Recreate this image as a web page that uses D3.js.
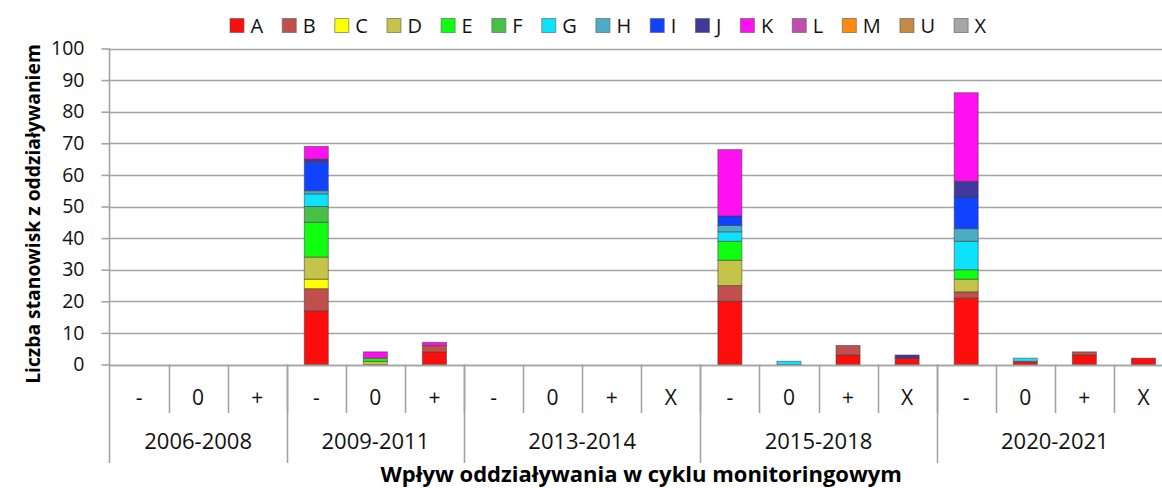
<!DOCTYPE html>
<html>
<head>
<meta charset="utf-8">
<script src="https://cdn.jsdelivr.net/npm/d3@7"></script>
<style>
  html, body { margin: 0; padding: 0; background: #fff; }
  svg { display: block; font-family: "Open Sans", sans-serif; }
</style>
</head>
<body>
<div id="chart"></div>
<script>
// Kategorie: grupa (cykl) + wpływ
const GROUPS = ["2006-2008", "2009-2011", "2013-2014", "2015-2018", "2020-2021"];
const SUBS = [
  ["-", "0", "+"],
  ["-", "0", "+"],
  ["-", "0", "+", "X"],
  ["-", "0", "+", "X"],
  ["-", "0", "+", "X"],
];
const KEYS = ["A", "B", "C", "D", "E", "F", "G", "H", "I", "J", "K", "L", "M", "U", "X"];
const COLORS = ["#fe0d0d", "#c0504d", "#ffff00", "#c4c44a", "#10ff10", "#48c048", "#0fe2ff",
  "#4bacc6", "#1043ff", "#40389a", "#ff10f0", "#c04cb0", "#ff8a10", "#c48a45", "#a6a6a6"];

// wartości w kolejności kategorii (18 słupków)
const A = [0, 0, 0, 17, 0, 4, 0, 0, 0, 0, 20, 0, 3, 2, 21, 1, 3, 2];
const B = [0, 0, 0, 7, 0, 2, 0, 0, 0, 0, 5, 0, 3, 0, 2, 0, 1, 0];
const C = [0, 0, 0, 3, 0, 0, 0, 0, 0, 0, 0, 0, 0, 0, 0, 0, 0, 0];
const D = [0, 0, 0, 7, 1, 0, 0, 0, 0, 0, 8, 0, 0, 0, 4, 0, 0, 0];
const E = [0, 0, 0, 11, 1, 0, 0, 0, 0, 0, 6, 0, 0, 0, 3, 0, 0, 0];
const F = [0, 0, 0, 5, 0, 0, 0, 0, 0, 0, 0, 0, 0, 0, 0, 0, 0, 0];
const G = [0, 0, 0, 4, 0, 0, 0, 0, 0, 0, 3, 1, 0, 0, 9, 1, 0, 0];
const H = [0, 0, 0, 1, 0, 0, 0, 0, 0, 0, 2, 0, 0, 0, 4, 0, 0, 0];
const I = [0, 0, 0, 9, 0, 0, 0, 0, 0, 0, 3, 0, 0, 0, 10, 0, 0, 0];
const J = [0, 0, 0, 1, 0, 0, 0, 0, 0, 0, 0, 0, 0, 1, 5, 0, 0, 0];
const K = [0, 0, 0, 4, 2, 1, 0, 0, 0, 0, 21, 0, 0, 0, 28, 0, 0, 0];
const L = [0, 0, 0, 0, 0, 0, 0, 0, 0, 0, 0, 0, 0, 0, 0, 0, 0, 0];
const M = [0, 0, 0, 0, 0, 0, 0, 0, 0, 0, 0, 0, 0, 0, 0, 0, 0, 0];
const U = [0, 0, 0, 0, 0, 0, 0, 0, 0, 0, 0, 0, 0, 0, 0, 0, 0, 0];
const X = [0, 0, 0, 0, 0, 0, 0, 0, 0, 0, 0, 0, 0, 0, 0, 0, 0, 0];
const SERIES = [A, B, C, D, E, F, G, H, I, J, K, L, M, U, X];

const Y_TICKS = [0, 10, 20, 30, 40, 50, 60, 70, 80, 90, 100];

const W = 1162, HGT = 488;
const plotLeft = 109.5, plotRight = 1173, plotTop = 48.5, plotBase = 364.5;
const GRID = "#a3a3a3";

// tabela dla d3.stack
const cats = [];
GROUPS.forEach((g, gi) => SUBS[gi].forEach(s => cats.push({ id: `${g}|${s}`, group: g, sub: s })));
const table = cats.map((c, i) => {
  const row = { id: c.id };
  KEYS.forEach((k, ki) => { row[k] = SERIES[ki][i]; });
  return row;
});
const stacked = d3.stack().keys(KEYS)(table);

const svg = d3.select("#chart").append("svg")
  .attr("width", W).attr("height", HGT);

const x = d3.scaleBand().domain(cats.map(c => c.id)).range([plotLeft, plotRight])
  .paddingInner(0.594).paddingOuter(0.297);
const y = d3.scaleLinear().domain([0, 100]).range([plotBase, plotTop]);

// siatka
svg.append("g")
  .selectAll("line").data(Y_TICKS).join("line")
  .attr("x1", plotLeft).attr("x2", W)
  .attr("y1", d => Math.round(y(d)) + 0.5).attr("y2", d => Math.round(y(d)) + 0.5)
  .attr("stroke", GRID).attr("stroke-width", 1.6);

// oś Y
const yAxis = svg.append("g")
  .attr("transform", `translate(${plotLeft},0)`)
  .call(d3.axisLeft(y).tickValues(Y_TICKS).tickSize(8).tickPadding(17).tickSizeOuter(0));
yAxis.select(".domain").remove();
yAxis.selectAll(".tick line").attr("stroke", GRID).attr("stroke-width", 1.6);
yAxis.selectAll(".tick text").attr("fill", "#111").style("font-size", "19.5px").style("font-family", "Open Sans");
svg.append("line")
  .attr("x1", plotLeft).attr("x2", plotLeft).attr("y1", plotTop).attr("y2", 463)
  .attr("stroke", GRID).attr("stroke-width", 1.6);

// słupki
svg.append("g")
  .selectAll("g").data(stacked).join("g")
  .attr("fill", (d, i) => COLORS[i])
  .selectAll("rect").data(d => d.filter(p => p[1] > p[0])).join("rect")
  .attr("x", d => x(d.data.id))
  .attr("width", x.bandwidth())
  .attr("y", d => y(d[1]))
  .attr("height", d => y(d[0]) - y(d[1]))
  .attr("stroke", "rgba(60,60,60,0.55)")
  .attr("stroke-width", 1);

// oś X: wielopoziomowe kategorie
const xg = svg.append("g");
const catScale = d3.scaleLinear().domain([0, cats.length]).range([plotLeft, plotRight]);
xg.selectAll("line.sep").data(d3.range(1, cats.length)).join("line")
  .attr("x1", d => Math.round(catScale(d)) + 0.5).attr("x2", d => Math.round(catScale(d)) + 0.5)
  .attr("y1", plotBase).attr("y2", 413)
  .attr("stroke", GRID).attr("stroke-width", 1.6);
let acc = 0;
const groupEdges = [0];
SUBS.forEach(s => { acc += s.length; groupEdges.push(acc); });
xg.selectAll("line.grp").data(groupEdges.slice(1)).join("line")
  .attr("x1", d => Math.round(catScale(d)) + 0.5).attr("x2", d => Math.round(catScale(d)) + 0.5)
  .attr("y1", plotBase).attr("y2", 463)
  .attr("stroke", GRID).attr("stroke-width", 1.6);
xg.append("line")
  .attr("x1", plotLeft).attr("x2", W).attr("y1", Math.round(plotBase) + 0.5).attr("y2", Math.round(plotBase) + 0.5)
  .attr("stroke", GRID).attr("stroke-width", 1.6);

xg.selectAll("text.sub").data(cats).join("text")
  .attr("x", (d, i) => catScale(i + 0.5))
  .attr("y", 405)
  .attr("text-anchor", "middle")
  .attr("fill", "#111")
  .style("font-size", "21px")
  .text(d => d.sub);

xg.selectAll("text.grp").data(GROUPS).join("text")
  .attr("x", (d, i) => catScale((groupEdges[i] + groupEdges[i + 1]) / 2))
  .attr("y", 448.5)
  .attr("text-anchor", "middle")
  .attr("fill", "#111")
  .style("font-size", "22px")
  .text(d => d);

// tytuły osi
svg.append("text")
  .attr("x", (plotLeft + plotRight) / 2).attr("y", 481.5)
  .attr("text-anchor", "middle")
  .style("font-size", "22px").style("font-weight", "bold")
  .text("Wpływ oddziaływania w cyklu monitoringowym");

svg.append("text")
  .attr("transform", `translate(40,214) rotate(-90)`)
  .attr("text-anchor", "middle")
  .style("font-size", "19.3px").style("font-weight", "bold")
  .text("Liczba stanowisk z oddziaływaniem");

// legenda
const legend = svg.append("g").attr("transform", "translate(0,26)");
const items = legend.selectAll("g").data(KEYS).join("g");
items.append("rect")
  .attr("width", 14).attr("height", 14).attr("y", -7.5)
  .attr("fill", (d, i) => COLORS[i])
  .attr("stroke", "rgba(90,90,90,0.6)");
items.append("text")
  .attr("x", 20.5).attr("y", 7)
  .attr("fill", "#111")
  .style("font-size", "20px")
  .text(d => d);
let lx = 0;
items.each(function () {
  const w = this.querySelector("text").getComputedTextLength();
  this._x = lx;
  lx += 20 + w + 19.6;
});
const startX = 230;
items.attr("transform", function () { return `translate(${startX + this._x},0)`; });
</script>
</body>
</html>
